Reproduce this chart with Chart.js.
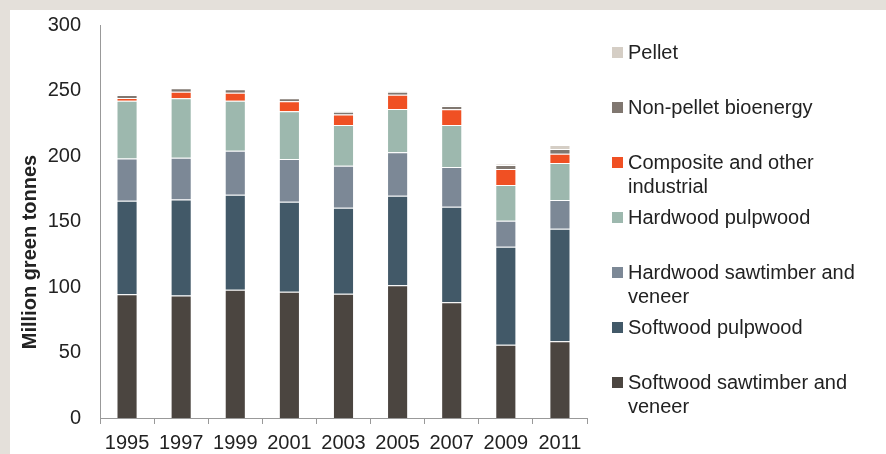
<!DOCTYPE html>
<html>
<head>
<meta charset="utf-8">
<script src="https://cdn.jsdelivr.net/npm/chart.js@4"></script>
<style>
  html, body { margin: 0; padding: 0; }
  body { width: 886px; height: 454px; background: #e4e0da; position: relative; overflow: hidden; }
  .panel { position: absolute; left: 10px; top: 10px; width: 876px; height: 444px; background: #fff; }
</style>
</head>
<body>
<div class="panel"><canvas id="harvest" width="876" height="444"></canvas></div>
<script>
const years = ["1995", "1997", "1999", "2001", "2003", "2005", "2007", "2009", "2011"];

// million green tonnes, stacked bottom to top
const softwoodSawtimber = [94.4, 93.6, 97.9, 96.4, 94.9, 101.3, 88.3, 56.0, 58.5];
const softwoodPulpwood = [71.5, 73.1, 72.6, 68.7, 65.6, 68.4, 73.0, 74.8, 86.0];
const hardwoodSawtimber = [32.1, 32.0, 33.5, 32.6, 32.1, 33.1, 30.3, 19.8, 21.9];
const hardwoodPulpwood = [44.2, 45.3, 38.2, 36.4, 31.1, 33.1, 32.1, 27.3, 28.3];
const compositeOther = [2.1, 5.1, 6.1, 7.6, 7.9, 10.9, 11.9, 12.2, 7.1];
const nonPelletBio = [2.3, 2.6, 2.6, 2.3, 2.2, 2.3, 2.6, 3.0, 3.5];
const pellet = [0.2, 0.2, 0.2, 0.2, 0.3, 0.3, 0.4, 0.8, 3.1];

const yTicks = [0, 50, 100, 150, 200, 250, 300];

const seriesLines = [
  ["Softwood sawtimber and", "veneer"],
  ["Softwood pulpwood"],
  ["Hardwood sawtimber and", "veneer"],
  ["Hardwood pulpwood"],
  ["Composite and other", "industrial"],
  ["Non-pellet bioenergy"],
  ["Pellet"],
];
const seriesData = [softwoodSawtimber, softwoodPulpwood, hardwoodSawtimber, hardwoodPulpwood, compositeOther, nonPelletBio, pellet];
const seriesColors = ["#4b4540", "#425968", "#7c8896", "#9db8ae", "#f05023", "#807770", "#d5cec5"];

const FONT = "'Liberation Sans', Arial, sans-serif";
const TEXT = "#222";

// legend on the right, top entry is the top of the stack
const sideLegend = {
  id: "sideLegend",
  afterDraw(chart) {
    const ctx = chart.ctx;
    ctx.save();
    ctx.font = "20px " + FONT;
    ctx.textBaseline = "middle";
    const n = chart.data.datasets.length;
    for (let i = 0; i < n; i++) {
      const idx = n - 1 - i;
      const y = 42 + i * 55;
      ctx.fillStyle = seriesColors[idx];
      ctx.fillRect(602, y - 5, 11, 11);
      ctx.fillStyle = TEXT;
      seriesLines[idx].forEach((line, k) => {
        ctx.fillText(line, 618, y + 1 + k * 24);
      });
    }
    ctx.restore();
  },
};

// rotated value-axis title
const yTitle = {
  id: "yTitle",
  afterDraw(chart) {
    const ctx = chart.ctx;
    ctx.save();
    ctx.translate(20, 242);
    ctx.rotate(-Math.PI / 2);
    ctx.font = "bold 20px " + FONT;
    ctx.fillStyle = TEXT;
    ctx.textAlign = "center";
    ctx.textBaseline = "middle";
    ctx.fillText("Million green tonnes", 0, 0);
    ctx.restore();
  },
};

new Chart(document.getElementById("harvest"), {
  type: "bar",
  data: {
    labels: years,
    datasets: seriesData.map((values, i) => ({
      label: seriesLines[i].join(" "),
      data: values,
      backgroundColor: seriesColors[i],
      borderColor: "rgba(255,255,255,0.3)",
      borderWidth: { top: 1, bottom: 0, left: 1, right: 1 },
      borderSkipped: false,
      categoryPercentage: 1,
      barPercentage: 0.39,
    })),
  },
  options: {
    responsive: false,
    animation: false,
    layout: { padding: { left: 0, top: 15, right: 299, bottom: 0 } },
    plugins: {
      legend: { display: false },
      tooltip: { enabled: false },
    },
    scales: {
      x: {
        stacked: true,
        offset: true,
        grid: { offset: true, drawOnChartArea: false, color: "#999", tickLength: 6 },
        border: { display: true, color: "#999", width: 1 },
        ticks: { color: TEXT, font: { family: FONT, size: 20 }, padding: 7, maxRotation: 0, autoSkip: false },
        afterFit(scale) { scale.height = 36; },
      },
      y: {
        stacked: true,
        min: 0,
        max: 300,
        afterBuildTicks(scale) { scale.ticks = yTicks.map((v) => ({ value: v })); },
        grid: { display: false },
        border: { display: true, color: "#999", width: 1 },
        ticks: { color: TEXT, font: { family: FONT, size: 20 }, padding: 11 },
        afterFit(scale) {
          scale.width = 90;
          scale.paddingTop = 0;
          scale.paddingBottom = 0;
        },
      },
    },
  },
  plugins: [sideLegend, yTitle],
});
</script>
</body>
</html>
